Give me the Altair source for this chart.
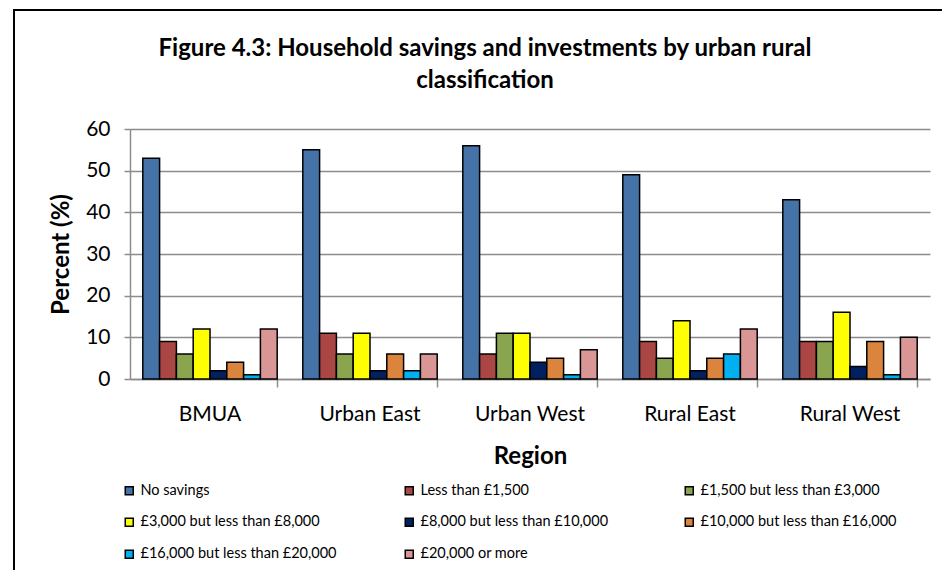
import altair as alt
import pandas as pd

regions = ["BMUA", "Urban East", "Urban West", "Rural East", "Rural West"]
series = [
    "No savings",
    "Less than £1,500",
    "£1,500 but less than £3,000",
    "£3,000 but less than £8,000",
    "£8,000 but less than £10,000",
    "£10,000 but less than £16,000",
    "£16,000 but less than £20,000",
    "£20,000 or more",
]
colors = ["#4572A7", "#AA4643", "#89A54E", "#FFFF00", "#002060", "#DB843D", "#00B0F0", "#D99694"]

no_savings = [53, 55, 56, 49, 43]
less_1500 = [9, 11, 6, 9, 9]
s1500_3000 = [6, 6, 11, 5, 9]
s3000_8000 = [12, 11, 11, 14, 16]
s8000_10000 = [2, 2, 4, 2, 3]
s10000_16000 = [4, 6, 5, 5, 9]
s16000_20000 = [1, 2, 1, 6, 1]
s20000_more = [12, 6, 7, 12, 10]

values = [no_savings, less_1500, s1500_3000, s3000_8000, s8000_10000,
          s10000_16000, s16000_20000, s20000_more]

rows = []
for s, vals in zip(series, values):
    for r, v in zip(regions, vals):
        rows.append({"Region": r, "Series": s, "Percent": v})
df = pd.DataFrame(rows)

FONT = "Lato"

border = alt.Chart(pd.DataFrame({"k": [0]})).mark_rect(
    fill="transparent", stroke="black", strokeWidth=2
).encode(
    x=alt.value(-116), x2=alt.value(1000), y=alt.value(-119), y2=alt.value(700)
)

bars = alt.Chart(df).mark_bar(stroke="black", strokeWidth=1.5).encode(
    x=alt.X("Region:N", sort=regions,
            scale=alt.Scale(paddingInner=0.16, paddingOuter=0.08),
            axis=alt.Axis(title="Region", labelAngle=0, bandPosition=1,
                          labelFont=FONT, labelFontSize=21, labelColor="black",
                          labelPadding=16, tickSize=8, tickColor="#8c8c8c", tickWidth=1.5,
                          domainColor="#8c8c8c", domainWidth=1.5,
                          titleFont=FONT, titleFontSize=24, titleFontWeight="bold",
                          titleColor="black", titlePadding=20)),
    xOffset=alt.XOffset("Series:N", sort=series,
                        scale=alt.Scale(paddingInner=0, paddingOuter=0)),
    y=alt.Y("Percent:Q", scale=alt.Scale(domain=[0, 60]),
            axis=alt.Axis(title="Percent (%)", values=[0, 10, 20, 30, 40, 50, 60],
                          labelFont=FONT, labelFontSize=21, labelColor="black",
                          labelPadding=14, tickSize=6, tickColor="#8c8c8c", tickWidth=1.5,
                          domainColor="#8c8c8c", domainWidth=1.5,
                          gridColor="#8c8c8c", gridWidth=1.5,
                          titleFont=FONT, titleFontSize=24, titleFontWeight="bold",
                          titleColor="black", titlePadding=12)),
    color=alt.Color("Series:N", sort=series,
                    scale=alt.Scale(domain=series, range=colors),
                    legend=alt.Legend(title=None, orient="none", legendX=-8, legendY=354,
                                      direction="horizontal",
                                      columns=3, gridAlign="all", columnPadding=65,
                                      rowPadding=16, symbolType="square", symbolSize=64,
                                      symbolStrokeColor="black", symbolStrokeWidth=1.5,
                                      labelFont=FONT, labelFontSize=14.5, labelColor="black",
                                      labelOffset=4, labelLimit=400)),
)

chart = alt.layer(border, bars).properties(
    width=800,
    height=250,
    autosize=alt.AutoSizeParams(type="none"),
    padding={"left": 122, "top": 121, "right": 12, "bottom": 191},
    title=alt.TitleParams(
        text=["Figure 4.3: Household savings and investments by urban rural", "classification"],
        font=FONT, fontSize=24, fontWeight="bold", color="black",
        anchor="middle", dx=-45, offset=-84, lineHeight=32,
    ),
).configure_view(strokeWidth=0)

chart.save("out.html", embed_options={"renderer": "svg", "actions": False})
